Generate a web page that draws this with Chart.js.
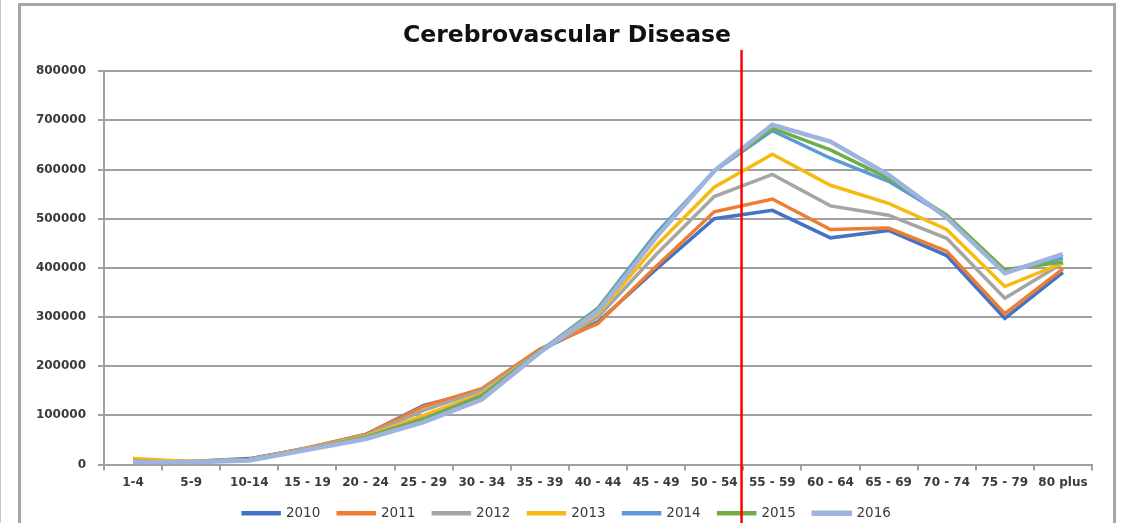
<!DOCTYPE html>
<html>
<head>
<meta charset="utf-8">
<script src="https://cdn.jsdelivr.net/npm/chart.js@4/dist/chart.umd.min.js"></script>
<style>
  html, body { margin: 0; padding: 0; background: #fff; }
  #wrap { position: relative; width: 1121px; height: 523px; overflow: hidden; }
  #chart { position: absolute; left: 0; top: 0; }
  .frame { position: absolute; left: 18px; top: 3px; width: 1092px; height: 560px;
           border: 3px solid #a6a6a6; border-bottom: none; pointer-events: none; }
  .edge { position: absolute; left: 0; top: 0; width: 1px; height: 523px; background: #c8c8c8; }
</style>
</head>
<body>
<div id="wrap">
  <canvas id="chart" width="1121" height="523"></canvas>
  <div class="frame"></div>
  <div class="edge"></div>
</div>
<script>
const ageGroups = ['1-4', '5-9', '10-14', '15 - 19', '20 - 24', '25 - 29', '30 - 34', '35 - 39', '40 - 44',
                   '45 - 49', '50 - 54', '55 - 59', '60 - 64', '65 - 69', '70 - 74', '75 - 79', '80 plus'];

const years = ['2010', '2011', '2012', '2013', '2014', '2015', '2016'];

const deaths2010 = [7000, 6000, 12000, 33000, 61000, 120000, 150000, 232000, 290000, 397000, 500000, 517000, 461000, 476000, 425000, 297000, 391000];
const deaths2011 = [7000, 6000, 10000, 34000, 61000, 118000, 154000, 235000, 287000, 403000, 514000, 540000, 478000, 481000, 434000, 307000, 398000];
const deaths2012 = [7000, 6000, 10000, 33000, 59000, 110000, 150000, 230000, 300000, 427000, 545000, 590000, 526000, 507000, 460000, 338000, 410000];
const deaths2013 = [12000, 6000, 10000, 32000, 57000, 100000, 144000, 230000, 307000, 445000, 564000, 631000, 568000, 531000, 478000, 362000, 410000];
const deaths2014 = [6000, 5000, 9000, 31000, 55000, 93000, 140000, 230000, 318000, 470000, 597000, 679000, 623000, 576000, 505000, 394000, 420000];
const deaths2015 = [6000, 5000, 9000, 31000, 55000, 92000, 138000, 230000, 316000, 465000, 597000, 684000, 640000, 582000, 507000, 396000, 412000];
const deaths2016 = [5000, 4500, 8000, 30000, 52000, 86000, 132000, 228000, 312000, 462000, 597000, 691000, 657000, 589000, 502000, 389000, 428000];

const yTicks = [0, 100000, 200000, 300000, 400000, 500000, 600000, 700000, 800000];

// red marker sits between "50 - 54" and "55 - 59"
const markerAt = 10.47;

const series = [deaths2010, deaths2011, deaths2012, deaths2013, deaths2014, deaths2015, deaths2016];
const colors = ['#4472C4', '#ED7D31', '#A5A5A5', '#F7BA12', '#5B9BD5', '#70AD47', '#9EB3E0'];

const gridColor = '#a0a0a0';
const textColor = '#3a3a3a';

const markerLine = {
    id: 'markerLine',
    afterDraw(chart) {
        const x = chart.scales.x.getPixelForValue(markerAt);
        const ctx = chart.ctx;
        ctx.save();
        ctx.strokeStyle = '#ff0000';
        ctx.lineWidth = 2.5;
        ctx.beginPath();
        ctx.moveTo(x, 50);
        ctx.lineTo(x, chart.height);
        ctx.stroke();
        ctx.restore();
    }
};

new Chart(document.getElementById('chart').getContext('2d'), {
    type: 'line',
    data: {
        labels: ageGroups,
        datasets: series.map((values, i) => ({
            label: years[i],
            data: values,
            borderColor: colors[i],
            backgroundColor: colors[i],
            borderWidth: i === 6 ? 4.5 : 3.5,
            pointRadius: 0,
            tension: 0,
            order: series.length - i
        }))
    },
    options: {
        responsive: false,
        animation: false,
        layout: { padding: { left: 13, right: 0, top: 0, bottom: -7 } },
        scales: {
            x: {
                offset: true,
                grid: {
                    offset: true,
                    drawOnChartArea: false,
                    drawTicks: true,
                    tickLength: 6,
                    color: gridColor,
                    lineWidth: 2
                },
                border: { color: gridColor, width: 2 },
                ticks: {
                    autoSkip: false,
                    maxRotation: 0,
                    padding: 5,
                    color: textColor,
                    font: { family: 'DejaVu Sans', size: 12, weight: 'bold' }
                },
                afterFit: scale => { scale.height = 24; }
            },
            y: {
                min: 0,
                max: 800000,
                afterBuildTicks: scale => { scale.ticks = yTicks.map(v => ({ value: v })); },
                grid: { color: gridColor, lineWidth: 2, tickLength: 6 },
                border: { color: gridColor, width: 2 },
                ticks: {
                    padding: 12,
                    color: textColor,
                    font: { family: 'DejaVu Sans', size: 12, weight: 'bold' },
                    callback: value => String(value)
                },
                afterFit: scale => { scale.width = 91; }
            },
            // empty spacer on the right so the plot ends where the original does
            spacer: {
                position: 'right',
                grid: { display: false },
                border: { display: false },
                ticks: { display: false },
                afterFit: scale => { scale.width = 29; }
            }
        },
        plugins: {
            title: {
                display: true,
                text: 'Cerebrovascular Disease',
                color: '#111',
                font: { family: 'DejaVu Sans', size: 23.5, weight: 'bold' },
                padding: { top: 22, bottom: 21 }
            },
            legend: {
                position: 'bottom',
                labels: {
                    boxWidth: 36,
                    boxHeight: 1,
                    padding: 18,
                    color: textColor,
                    font: { family: 'DejaVu Sans', size: 13.5 },
                    sort: (a, b) => a.datasetIndex - b.datasetIndex
                }
            },
            tooltip: { enabled: false }
        }
    },
    plugins: [markerLine]
});
</script>
</body>
</html>
